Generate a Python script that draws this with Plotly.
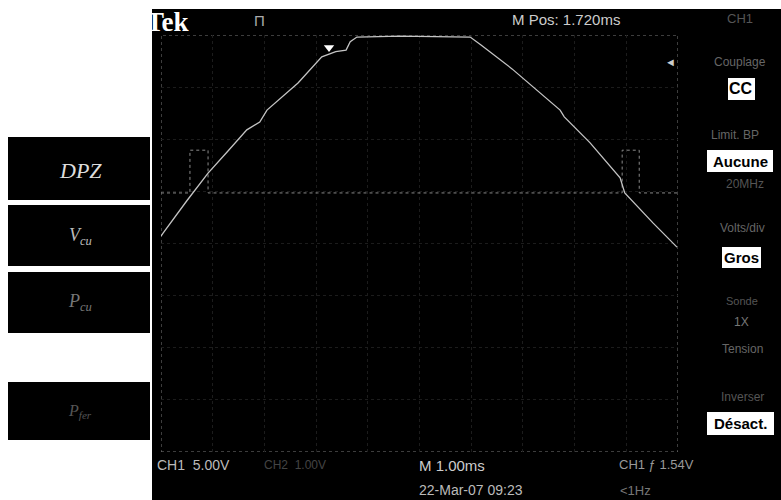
import plotly.graph_objects as go

# ---- data (oscilloscope divisions: time 0..10 div, volts -4..4 div) ----
ch1_t = [0, 0.04, 0.5, 0.91, 1.3, 1.66, 1.91, 2.05, 2.65, 3.11, 3.38, 3.58, 3.66, 3.79,
         4.62, 5.98, 6.19, 6.79, 7.72, 7.8, 8.3, 8.88, 8.97, 9.52, 9.98]
ch1_v = [0.14, 0.2, 0.82, 1.35, 1.78, 2.18, 2.33, 2.56, 3.08, 3.58, 3.68, 3.71, 3.87, 3.96,
         3.98, 3.96, 3.81, 3.35, 2.56, 2.43, 1.93, 1.26, 0.97, 0.39, -0.07]
ch2_t = [0, 0.56, 0.56, 0.91, 0.91, 8.92, 8.92, 9.25, 9.25, 10]
ch2_v = [0.97, 0.97, 1.79, 1.79, 0.97, 0.97, 1.79, 1.79, 0.97, 0.97]
trig_t = [3.25]
trig_v = [3.76]

left_labels = ["<i>DPZ</i>", "<i>V<sub>cu</sub></i>", "<i>P<sub>cu</sub></i>", "<i>P<sub>fer</sub></i>"]
menu_labels = ["Couplage", "Limit. BP", "20MHz", "Volts/div", "Sonde", "1X", "Tension", "Inverser"]
menu_values = ["CC", "Aucune", "Gros", "Désact."]

W, H = 781, 500
X0, X1, Y0, Y1 = 161, 678, 35, 452


def px(x):
    return (x - X0) / (X1 - X0)


def py(y):
    return (Y1 - y) / (Y1 - Y0)


def rect(x0, y0, x1, y1, color, layer="below"):
    return dict(type="rect", xref="paper", yref="paper", x0=px(x0), x1=px(x1),
                y0=py(y1), y1=py(y0), fillcolor=color, line=dict(width=0), layer=layer)


NARROW = "Liberation Sans Narrow, Arial Narrow, Liberation Sans, sans-serif"
annots = []


def ann(text, x, y, size, color, xanchor="left", family=NARROW, bold=False):
    if bold:
        text = "<b>" + text + "</b>"
    annots.append(dict(text=text, xref="paper", yref="paper", x=px(x), y=py(y),
                       xanchor=xanchor, yanchor="middle", showarrow=False,
                       font=dict(size=size, color=color, family=family)))


fig = go.Figure()
fig.add_trace(go.Scatter(x=ch2_t, y=ch2_v, mode="lines",
                         line=dict(color="#8a8a8a", width=1, dash="dot"), hoverinfo="skip"))
fig.add_trace(go.Scatter(x=ch1_t, y=ch1_v, mode="lines",
                         line=dict(color="#c4c4c4", width=1.3), hoverinfo="skip"))
fig.add_trace(go.Scatter(x=trig_t, y=trig_v, mode="markers",
                         marker=dict(symbol="triangle-down", size=9, color="white"), hoverinfo="skip"))

shapes = []
# black scope screen
shapes.append(rect(152, 9, 781, 500, "black"))
# left label boxes
for (a, b) in [(137, 200), (205, 266), (272, 333), (382, 440)]:
    shapes.append(rect(8, a, 150, b, "black"))
# center crosshair
shapes.append(dict(type="line", xref="x", yref="y", x0=5, x1=5, y0=-4, y1=4,
                   line=dict(color="#555555", width=1, dash="dot"), layer="below"))
shapes.append(dict(type="line", xref="x", yref="y", x0=0, x1=10, y0=0, y1=0,
                   line=dict(color="#555555", width=1, dash="dot"), layer="below"))
# border
shapes.append(dict(type="rect", xref="x", yref="y", x0=0, x1=10, y0=-4, y1=4,
                   line=dict(color="#7a7a7a", width=1, dash="dot"), layer="below"))
# menu value boxes
boxes = [(728, 78, 755, 100), (707, 150, 773, 172), (722, 247, 761, 268), (707, 412, 774, 435)]
for b in boxes:
    shapes.append(rect(*b, "white", layer="above"))

# texts
ann("Tek", 144, 22, 27, "white", family="Liberation Serif, serif", bold=True)
ann("Π", 252, 21, 15, "#aaaaaa")
ann("M Pos: 1.720ms", 510, 19, 15, "#cccccc")
ann("CH1", 740, 18, 13, "#555555", xanchor="center")
ann("◄", 670, 62, 11, "#cccccc", xanchor="center")

ann(menu_labels[0], 740, 62, 12, "#666666", xanchor="center")
ann(menu_labels[1], 735, 135, 12, "#666666", xanchor="center")
ann(menu_labels[2], 745, 184, 12, "#555555", xanchor="center")
ann(menu_labels[3], 742, 228, 12, "#666666", xanchor="center")
ann(menu_labels[4], 742, 301, 11, "#555555", xanchor="center")
ann(menu_labels[5], 741, 322, 12, "#777777", xanchor="center")
ann(menu_labels[6], 742, 349, 12, "#666666", xanchor="center")
ann(menu_labels[7], 742, 397, 12, "#555555", xanchor="center")
centers = [(741, 89), (740, 161), (741, 257), (740, 423)]
sizes = [16, 15, 15, 15]
for txt, (cx, cy), s in zip(menu_values, centers, sizes):
    ann(txt, cx, cy, s, "black", xanchor="center", family=NARROW, bold=True)

ann("CH1  5.00V", 155, 465, 14, "#bbbbbb")
ann("CH2  1.00V", 262, 465, 12, "#444444")
ann("M 1.00ms", 417, 465, 15, "#cccccc")
ann("CH1 ƒ 1.54V", 617, 464, 13, "#999999")
ann("22-Mar-07 09:23", 417, 490, 14, "#bbbbbb")
ann("&lt;1Hz", 618, 490, 13, "#777777")

left_pos = [(80, 170, 22, "#dddddd"), (80, 236, 18, "#bbbbbb"), (80, 302, 18, "#777777"), (80, 411, 16, "#555555")]
for txt, (x, y, s, c) in zip(left_labels, left_pos):
    ann(txt, x, y, s, c, xanchor="center", family="Liberation Serif, serif")

fig.update_layout(
    width=W, height=H,
    margin=dict(l=X0, r=W - X1, t=Y0, b=H - Y1, pad=0),
    paper_bgcolor="white", plot_bgcolor="black",
    showlegend=False,
    shapes=shapes, annotations=annots,
    xaxis=dict(range=[0, 10], dtick=1, showgrid=True, gridcolor="#1c1c1c", griddash="dot",
               showticklabels=False, zeroline=False, ticks="", showline=False, fixedrange=True),
    yaxis=dict(range=[-4, 4], dtick=1, showgrid=True, gridcolor="#1c1c1c", griddash="dot",
               showticklabels=False, zeroline=False, ticks="", showline=False, fixedrange=True),
)
fig.write_html("out.html", config={"displayModeBar": False},
               post_script="document.body.style.margin='0';document.body.style.overflow='hidden';")
